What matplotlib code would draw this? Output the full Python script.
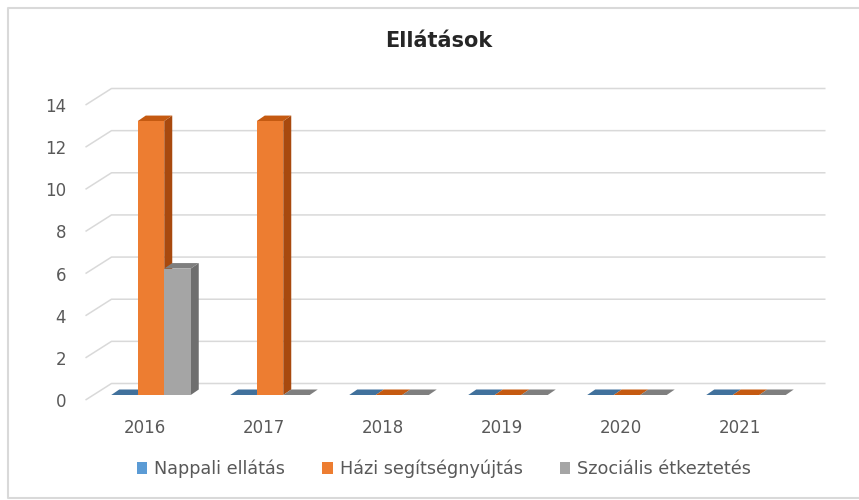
import matplotlib
matplotlib.use("Agg")
import matplotlib.pyplot as plt
from matplotlib.patches import Polygon, Rectangle, Patch
from matplotlib.lines import Line2D

years = ["2016", "2017", "2018", "2019", "2020", "2021"]
series_names = ["Nappali ellátás", "Házi segítségnyújtás", "Szociális étkeztetés"]
nappali = [0, 0, 0, 0, 0, 0]
hazi = [13, 13, 0, 0, 0, 0]
szocialis = [6, 0, 0, 0, 0, 0]
series = [nappali, hazi, szocialis]
yticks = [0, 2, 4, 6, 8, 10, 12, 14]

front_cols = ["#5B9BD5", "#ED7D31", "#A5A5A5"]
top_cols = ["#41719C", "#C55A11", "#7F7F7F"]
side_cols = ["#3A6690", "#A8490E", "#6E6E6E"]
txt = "#595959"
grid = "#D9D9D9"

W, H = 859, 500
fig = plt.figure(figsize=(W / 100, H / 100), dpi=100)
fig.patch.set_facecolor("white")

# chart border (top, left, bottom)
bx0, by0, by1 = 7.5 / W, 1 - 7.5 / H, 1 - 497.5 / H
fig.lines.append(Line2D([1.0, bx0, bx0, 1.0], [by0, by0, by1, by1], transform=fig.transFigure,
                        color="#D9D9D9", lw=1.5))

ax_l, ax_r, ax_b, ax_t = 85.5, 799.5, 400, 105
ax = fig.add_axes([ax_l / W, 1 - ax_b / H, (ax_r - ax_l) / W, (ax_b - ax_t) / H])
ax.set_xlim(-0.5, len(years) - 0.5)
ax.set_ylim(0, 14)
ax.set_facecolor("none")
for s in ax.spines.values():
    s.set_visible(False)

pxx = (ax_r - ax_l) / len(years)
pxy = (ax_b - ax_t) / 14.0

def off(px, py):
    return px / pxx, py / pxy

fdx, fdy = off(26, 16.5)    # floor depth
bdx, bdy = off(6, 5)        # bar front offset
ddx, ddy = off(8, 5.5)      # bar depth
bw = 26.5 / pxx

# gridlines (left wall diagonal + back wall)
x0, x1 = -0.5, len(years) - 0.5
for v in yticks:
    ax.plot([x0, x0 + fdx, x1 + fdx], [v, v + fdy, v + fdy], color=grid, lw=1.1,
            clip_on=False, zorder=1, solid_capstyle="butt")

# bars
for i in range(len(years)):
    for j, vals in enumerate(series):
        v = vals[i]
        xl = i + (j - 1.5) * bw + bdx
        xr = xl + bw
        yb = bdy
        yt = bdy + v
        z = 3 + i * 3 + j * 0.1
        if v > 0:
            ax.add_patch(Polygon([(xr, yb), (xr, yt), (xr + ddx, yt + ddy), (xr + ddx, yb + ddy)],
                                 closed=True, facecolor=side_cols[j], edgecolor="none",
                                 clip_on=False, zorder=z))
        ax.add_patch(Polygon([(xl, yt), (xr, yt), (xr + ddx, yt + ddy), (xl + ddx, yt + ddy)],
                             closed=True, facecolor=top_cols[j], edgecolor="none",
                             clip_on=False, zorder=z))
        if v > 0:
            ax.add_patch(Rectangle((xl, yb), bw, v, facecolor=front_cols[j], edgecolor="none",
                                   clip_on=False, zorder=z + 0.05))

ax.set_xticks(range(len(years)))
ax.set_xticklabels(years)
ax.set_yticks(yticks)
ax.set_yticklabels([str(t) for t in yticks])
ax.tick_params(axis="both", length=0, colors=txt, labelsize=12)
ax.tick_params(axis="x", pad=14)
ax.tick_params(axis="y", pad=14)

fig.text(438.5 / W, 1 - 41 / H, "Ellátások", ha="center", va="center",
         fontsize=15, fontweight="bold", color="#262626")

handles = [Patch(facecolor=c, edgecolor="none") for c in front_cols]
fig.legend(handles, series_names, loc="center", bbox_to_anchor=(444 / W, 1 - 469 / H),
           ncol=3, frameon=False, fontsize=12.7, labelcolor=txt,
           handlelength=0.6, handleheight=0.6, handletextpad=0.4, columnspacing=2.1)

fig.savefig("out.png", dpi=100, facecolor="white")
